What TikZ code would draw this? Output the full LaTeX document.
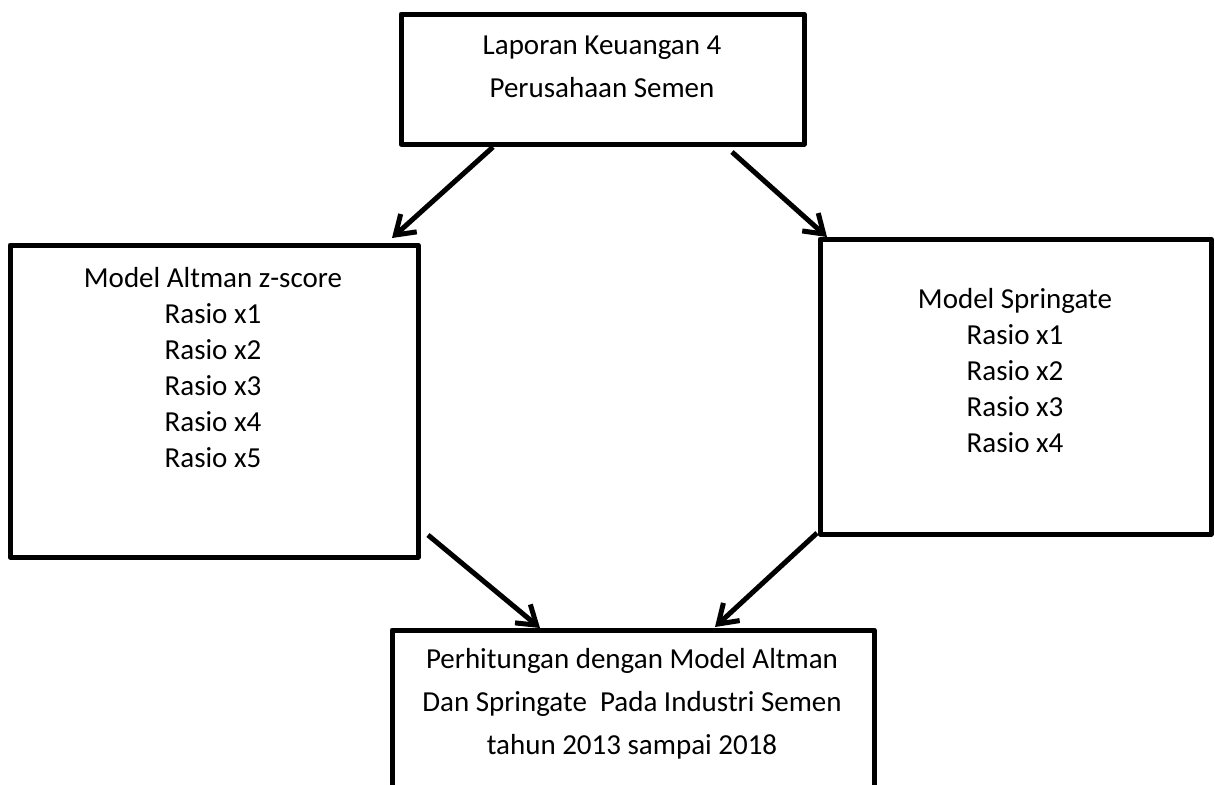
\documentclass[tikz,border=0pt]{standalone}
\usepackage{fontspec}
\setmainfont{Carlito}
\usetikzlibrary{arrows.meta,calc}

\begin{document}
\begin{tikzpicture}[
    x=0.5pt, y=-0.5pt,
    box/.style  = {rectangle, draw=black, line width=2.5pt,
                   outer sep=0pt, inner sep=0pt, line join=round},
    txt/.style  = {align=center, inner sep=0pt,
                   font=\fontsize{14.5}{21.5}\selectfont},
    ltxt/.style = {align=center, inner sep=0pt,
                   font=\fontsize{14.5}{18}\selectfont},
    arr/.style  = {-{Straight Barb[length=9pt,width=12pt]}, line width=2.5pt},
  ]
  \useasboundingbox (0,0) rectangle (1215,784);
  \clip (0,0) rectangle (1215,784);
  % boxes
  \node[box, minimum width=201.5pt, minimum height=65pt]  (lap) at (602.5,79)   {};
  \node[box, minimum width=204pt,   minimum height=156pt] (alt) at (214,401)    {};
  \node[box, minimum width=195.5pt, minimum height=147.5pt] (spr) at (1015.5,386.5) {};
  \node[box, minimum width=241pt,   minimum height=85pt]  (hit) at (633,715)    {};
  % texts (base = last line)
  \node[txt, anchor=base]  (laptxt) at (602,97)  {Laporan Keuangan 4\\Perusahaan Semen};
  \node[ltxt, anchor=base] (alttxt) at (213,467) {Model Altman z-score\\Rasio x1\\Rasio x2\\Rasio x3\\Rasio x4\\Rasio x5};
  \node[ltxt, anchor=base] (sprtxt) at (1015,452) {Model Springate\\Rasio x1\\Rasio x2\\Rasio x3\\Rasio x4};
  \node[txt, anchor=base]  (hittxt) at (632,754) {Perhitungan dengan Model Altman\\Dan Springate~ Pada Industri Semen\\tahun 2013 sampai 2018};
  % arrows
  \draw[arr] ($(lap.south west)+(92,3)$)  -- ($(alt.north east)+(-26,-7)$);
  \draw[arr] ($(lap.south east)+(-72,8)$) -- ($(spr.north west)+(7,-2)$);
  \draw[arr] ($(alt.south east)+(10,-22)$) -- ($(hit.north west)+(148,-2)$);
  \draw[arr] ($(spr.south west)+(-3,-1)$) -- ($(hit.north east)+(-159,-3)$);
\end{tikzpicture}
\end{document}
